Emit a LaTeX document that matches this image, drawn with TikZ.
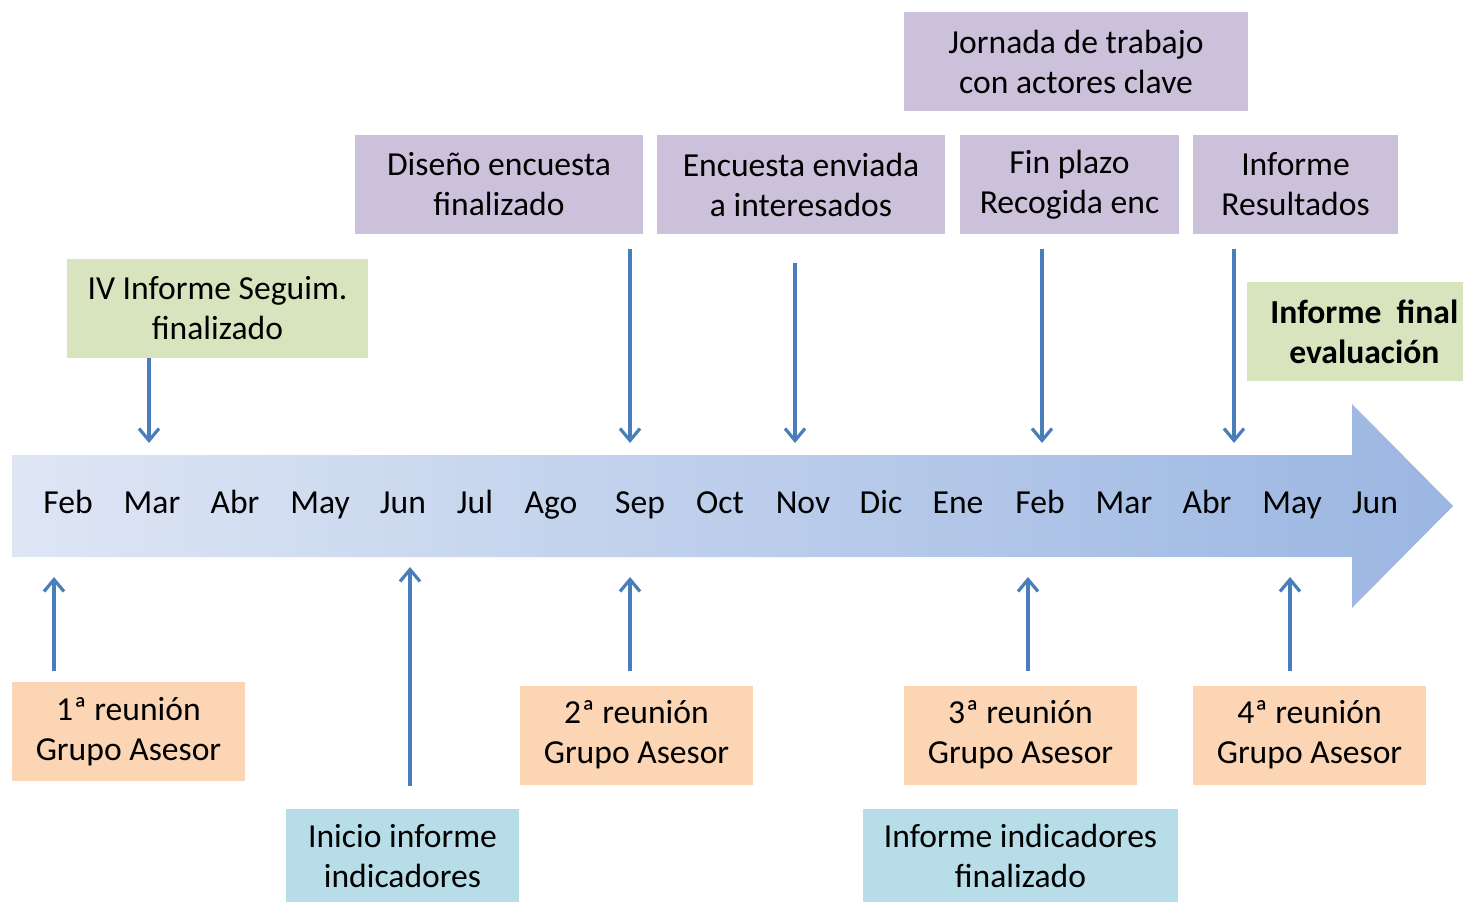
\documentclass[tikz,border=0pt]{standalone}
\usepackage{fontspec}
\setmainfont{Carlito}
\usetikzlibrary{arrows.meta}
\definecolor{purp}{RGB}{204,193,218}
\definecolor{grn}{RGB}{215,228,189}
\definecolor{orng}{RGB}{252,213,181}
\definecolor{cyanb}{RGB}{183,222,232}
\definecolor{arr}{RGB}{74,126,187}
\definecolor{bandL}{RGB}{222,230,244}
\definecolor{bandR}{RGB}{155,182,226}
\begin{document}
\begin{tikzpicture}[x=0.75pt,y=-0.75pt,
  box/.style={inner sep=0pt, align=center, font=\fontsize{25.2}{30}\selectfont, text=black, minimum height=74.25pt},
  pbox/.style={box, fill=purp},
  gbox/.style={box, fill=grn},
  obox/.style={box, fill=orng, minimum width=174.75pt},
  cbox/.style={box, fill=cyanb, minimum height=70.5pt},
  month/.style={inner sep=0pt, anchor=base, font=\fontsize{25.2}{30}\selectfont, text=black},
  conn/.style={draw=arr, line width=2.4pt, -{Straight Barb[length=9pt,width=15pt]}}]
\useasboundingbox (0,0) rectangle (1464,902);
% timeline band
\shade[left color=bandL, right color=bandR] (12,455) -- (1352,455) -- (1352,404) -- (1453,506) -- (1352,608) -- (1352,557) -- (12,557) -- cycle;
% months
\foreach \n/\x/\t in {1/68/Feb,2/152/Mar,3/235/Abr,4/320/May,5/403/Jun,6/475/Jul,7/551/Ago,8/640/Sep,9/720/Oct,10/803/Nov,11/881/Dic,12/958/Ene,13/1040/Feb,14/1124/Mar,15/1207/Abr,16/1292/May,17/1375/Jun}
  \node[month] (m\n) at (\x,513) {\t};
% top boxes
\node[pbox, minimum width=258pt] (jor) at (1076,61.5) {Jornada de trabajo\\con actores clave};
\node[pbox, minimum width=216pt] (dis) at (499,184.5) {Diseño encuesta\\finalizado};
\node[pbox, minimum width=216pt] (enc) at (801,184.5) {Encuesta enviada\\a interesados};
\node[pbox, minimum width=164.25pt] (fin) at (1069.5,184.5) {Fin plazo\\Recogida enc};
\node[pbox, minimum width=153.75pt] (res) at (1295.5,184.5) {Informe\\Resultados};
\node[gbox, minimum width=225.75pt] (ivs) at (217.5,308.5) {IV Informe Seguim.\\finalizado};
\node[gbox, minimum width=162pt, font=\fontsize{25.2}{30}\selectfont\bfseries] (ife) at (1355,331.5) {\hspace*{14pt}Informe\ \ final\\\hspace*{14pt}evaluación};
% bottom boxes
\node[obox] (r1) at (128.5,731.5) {1ª reunión\\Grupo Asesor};
\node[obox] (r2) at (636.5,735) {2ª reunión\\Grupo Asesor};
\node[obox] (r3) at (1020.5,735) {3ª reunión\\Grupo Asesor};
\node[obox] (r4) at (1309.5,735) {4ª reunión\\Grupo Asesor};
\node[cbox, minimum width=174.75pt] (ini) at (402.5,856) {Inicio informe\\indicadores};
\node[cbox, minimum width=236.25pt] (ind) at (1020.5,856) {Informe indicadores\\finalizado};
% arrow end points
\coordinate (a1) at (149,443);
\coordinate (a2) at (630,443);
\coordinate (a3) at (795,443);
\coordinate (a4) at (1042,443);
\coordinate (a5) at (1234,443);
\coordinate (b1) at (54,577);
\coordinate (b2) at (410,567);
\coordinate (b3) at (630,577);
\coordinate (b4) at (1028,577);
\coordinate (b5) at (1290,577);
% down arrows
\draw[conn] (ivs.south -| a1) -- (a1);
\draw[conn, shorten <=11.25pt] (dis.south -| a2) -- (a2);
\draw[conn, shorten <=21.75pt] (enc.south -| a3) -- (a3);
\draw[conn, shorten <=11.25pt] (fin.south -| a4) -- (a4);
\draw[conn, shorten <=11.25pt] (res.south -| a5) -- (a5);
% up arrows
\draw[conn, shorten <=8.25pt] (r1.north -| b1) -- (b1);
\draw[conn, shorten <=17pt] (ini.north -| b2) -- (b2);
\draw[conn, shorten <=10.5pt] (r2.north -| b3) -- (b3);
\draw[conn, shorten <=10.5pt] (r3.north -| b4) -- (b4);
\draw[conn, shorten <=10.5pt] (r4.north -| b5) -- (b5);
\end{tikzpicture}
\end{document}
